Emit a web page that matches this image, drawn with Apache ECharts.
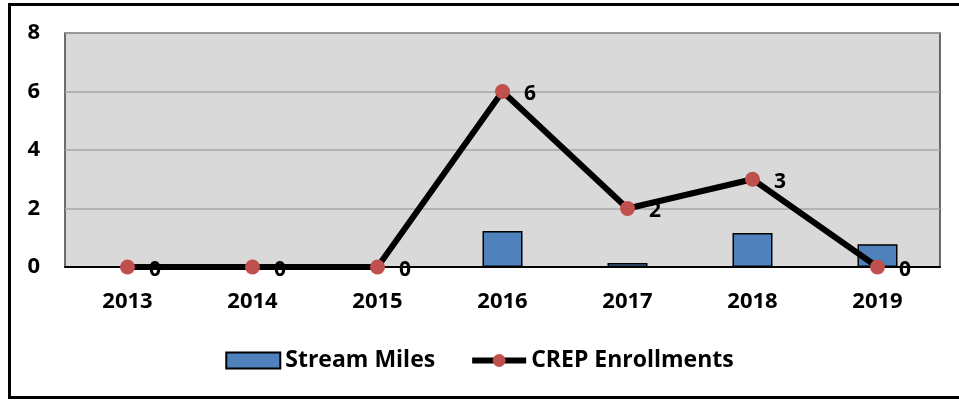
<!DOCTYPE html>
<html>
<head>
<meta charset="utf-8">
<script src="https://cdn.jsdelivr.net/npm/echarts@6/dist/echarts.min.js"></script>
<style>
  html, body { margin: 0; padding: 0; background: #fff; }
  #main { width: 959px; height: 400px; }
</style>
</head>
<body>
<div id="main"></div>
<script>
// data
var years = ['2013', '2014', '2015', '2016', '2017', '2018', '2019'];
var streamMiles = [0, 0, 0, 1.23, 0.14, 1.16, 0.78];
var crepEnrollments = [0, 0, 0, 6, 2, 3, 0];
var yTicks = [0, 2, 4, 6, 8];

var font = 'Open Sans';

var myChart = echarts.init(document.getElementById('main'));
var option = {
    animation: false,
    textStyle: { fontFamily: font },
    graphic: [{
        type: 'rect',
        shape: { x: 9.5, y: 4.5, width: 990, height: 393 },
        style: { fill: 'none', stroke: '#000', lineWidth: 3 },
        z: 100
    }],
    grid: {
        left: 65, right: 19, top: 33, bottom: 133,
        show: true,
        backgroundColor: '#d9d9d9',
        borderColor: '#404040',
        borderWidth: 1.5
    },
    legend: {
        bottom: 23,
        left: 'center',
        itemGap: 34,
        itemWidth: 54,
        itemHeight: 16,
        textStyle: { fontFamily: font, fontWeight: 'bold', fontSize: 23, color: '#000' },
        data: [
            { name: 'Stream Miles', icon: 'rect' },
            { name: 'CREP Enrollments', lineStyle: { width: 6, color: '#000' } }
        ]
    },
    xAxis: {
        type: 'category',
        data: years,
        axisLine: { lineStyle: { color: '#000', width: 2 } },
        axisTick: { show: false },
        axisLabel: { margin: 24, fontFamily: font, fontWeight: 'bold', fontSize: 22, color: '#000' }
    },
    yAxis: {
        type: 'value',
        min: yTicks[0],
        max: yTicks[yTicks.length - 1],
        interval: 2,
        axisLine: { show: false },
        axisTick: { show: false },
        splitLine: { lineStyle: { color: '#a6a6a6', width: 1.5 } },
        axisLabel: { margin: 25, fontFamily: font, fontWeight: 'bold', fontSize: 22, color: '#000' }
    },
    series: [{
        name: 'Stream Miles',
        type: 'bar',
        data: streamMiles,
        barWidth: 40,
        itemStyle: { color: '#4f81bd', borderColor: '#000', borderWidth: 1.5 }
    }, {
        name: 'CREP Enrollments',
        type: 'line',
        data: crepEnrollments,
        symbol: 'circle',
        symbolSize: 15,
        z: 5,
        lineStyle: { color: '#000', width: 6 },
        itemStyle: { color: '#c0504d' },
        label: {
            show: true,
            position: 'right',
            distance: 14,
            offset: [0, 3],
            fontFamily: font,
            fontWeight: 'bold',
            fontSize: 21,
            color: '#000'
        }
    }]
};
myChart.setOption(option);
</script>
</body>
</html>
